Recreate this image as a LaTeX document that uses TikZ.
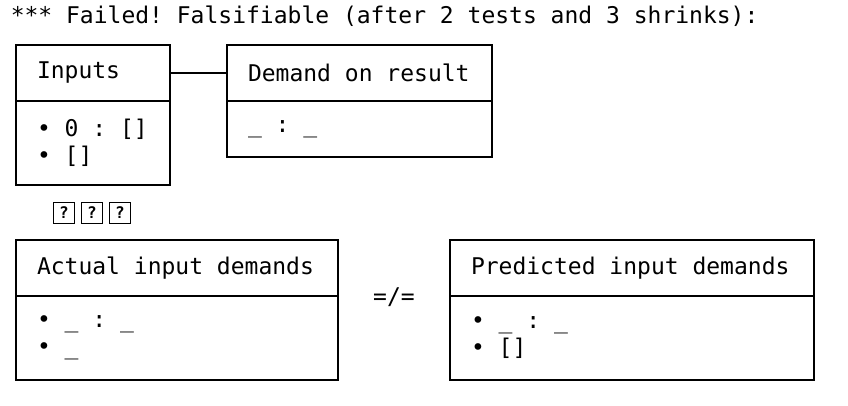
\documentclass[tikz,border=0pt]{standalone}
\usepackage{fontspec}
\newfontfamily\termfont{DejaVu Sans Mono}
\usetikzlibrary{positioning}

\begin{document}
\begin{tikzpicture}[x=1pt,y=-1pt,line width=1.5pt,
    font=\termfont\fontsize{23}{27}\selectfont,
    execute at begin node={\spaceskip=\fontdimen2\font\xspaceskip=\fontdimen2\font},
    head/.style={draw,anchor=north west,outer sep=0pt,inner xsep=21pt,minimum height=56pt,align=left,text width=#1},
    body/.style={draw,anchor=north west,outer sep=0pt,inner xsep=21pt,align=left,text width=#1},
    qbox/.style={draw,line width=1.8pt,minimum size=21pt,inner sep=0pt,font=\termfont\bfseries\fontsize{16}{16}\selectfont}]
    \useasboundingbox (0,0) rectangle (848,406);
    \node[anchor=base west,inner sep=0pt] (failed) at (10,24) {*** Failed! Falsifiable (after 2 tests and 3 shrinks):};
    % top row
    \node[head=112pt] (inputs) at (16,45) {Inputs};
    \node[body=112pt,minimum height=84pt] (inputsbody) at (inputs.south west) {• 0 : []\\• []};
    \node[head=223pt] (demand) at (227,45) {Demand on result};
    \node[body=223pt,minimum height=56pt] (demandbody) at (demand.south west) {\_ : \_};
    \draw (inputs.east) -- (demand.west);
    \foreach \x [count=\i] in {64,92,120}
      \node[qbox] (q\i) at (\x,213) {?};
    % bottom row
    \node[head=280pt] (actual) at (16,240) {Actual input demands};
    \node[body=280pt,minimum height=84pt] (actualbody) at (actual.south west) {• \_ : \_\\• \_};
    \node[head=322pt] (predicted) at (450,240) {Predicted input demands};
    \node[body=322pt,minimum height=84pt] (predictedbody) at (predicted.south west) {• \_ : \_\\• []};
    \node (neq) at (394,297) {=/=};
\end{tikzpicture}
\end{document}
